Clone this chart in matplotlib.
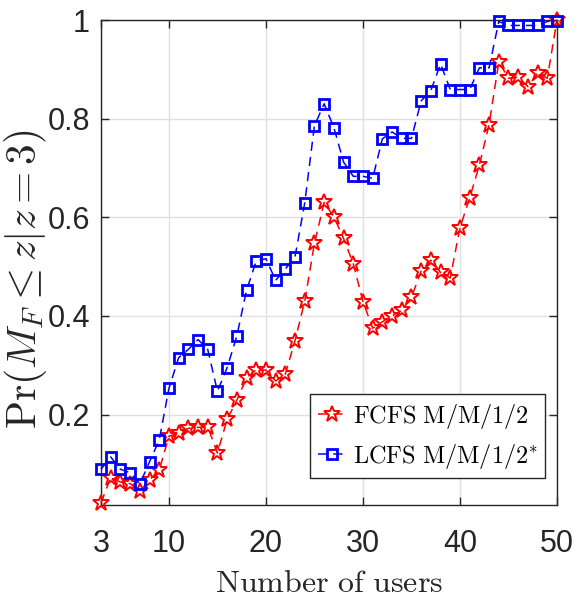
import numpy as np
import matplotlib
matplotlib.use("Agg")
import matplotlib.pyplot as plt

# ---- data ----
users = list(range(3, 51))
fcfs = [0.021, 0.072, 0.063, 0.060, 0.045, 0.067, 0.087,
        0.156, 0.162, 0.172, 0.174, 0.175, 0.122, 0.190, 0.229, 0.274, 0.291,
        0.290, 0.268, 0.282, 0.350, 0.430, 0.547, 0.630, 0.601, 0.557, 0.506,
        0.429, 0.375, 0.388, 0.400, 0.411, 0.438, 0.491, 0.513, 0.488, 0.477,
        0.579, 0.639, 0.706, 0.788, 0.915, 0.882, 0.884, 0.865, 0.892, 0.882, 1.0]
lcfs = [0.089, 0.114, 0.089, 0.082, 0.059, 0.104, 0.148,
        0.253, 0.315, 0.332, 0.352, 0.332, 0.247, 0.295, 0.359, 0.452, 0.511,
        0.516, 0.472, 0.495, 0.520, 0.629, 0.786, 0.830, 0.782, 0.712, 0.683,
        0.683, 0.679, 0.759, 0.773, 0.760, 0.760, 0.836, 0.857, 0.911, 0.859,
        0.859, 0.859, 0.903, 0.903, 0.997, 0.989, 0.989, 0.989, 0.989, 0.997, 0.997]
xticks = [3, 10, 20, 30, 40, 50]
xticklabels = ["3", "10", "20", "30", "40", "50"]
yticks = [0.2, 0.4, 0.6, 0.8, 1.0]
yticklabels = ["0.2", "0.4", "0.6", "0.8", "1"]
labels = [r"$\mathrm{FCFS\ M/M/1/2}$", r"$\mathrm{LCFS\ M/M/1/2}^{*}$"]

plt.rcParams['mathtext.fontset'] = 'cm'
plt.rcParams['font.family'] = ['Liberation Sans Narrow', 'Liberation Sans', 'DejaVu Sans']

fig = plt.figure(figsize=(5.79, 6.12), dpi=100)
ax = fig.add_axes([101/579, 1-505/612, (557-101)/579, (505-20)/612])

dash = (0, (6, 4))
ax.plot(users, fcfs, color='#ff0000', linestyle=dash, linewidth=1.1,
        marker='*', markersize=12, markerfacecolor='none', markeredgecolor='#ff0000',
        markeredgewidth=1.4, label=labels[0], clip_on=False, zorder=3)
ax.plot(users, lcfs, color='#0000ff', linestyle=dash, linewidth=1.1,
        marker='s', markersize=7.5, markerfacecolor='none', markeredgecolor='#0000ff',
        markeredgewidth=2.0, label=labels[1], clip_on=False, zorder=4)

ax.set_xlim(3, 50)
ax.set_ylim(0.0165, 1.0)
ax.set_xticks(xticks)
ax.set_xticklabels(xticklabels)
ax.set_yticks(yticks)
ax.set_yticklabels(yticklabels)
ax.tick_params(direction='in', length=6, width=1.0, labelsize=22, colors='#262626',
               top=True, right=True)
ax.tick_params(axis='x', pad=17)
ax.tick_params(axis='y', pad=8)
ax.grid(True, color='#e0e0e0', linewidth=1.0)
ax.set_axisbelow(True)
for s in ax.spines.values():
    s.set_color('#262626')
    s.set_linewidth(1.0)

ax.set_xlabel(r"$\mathrm{Number\ of\ users}$", fontsize=23, color='#262626')
ax.xaxis.set_label_coords(0.5, -0.132)
ax.set_ylabel(r"$\mathrm{Pr}(M_F \leq z|z=3)$", fontsize=27, color='#262626')
ax.yaxis.set_label_coords(-0.115, 0.465)

leg = ax.legend(loc='lower right', bbox_to_anchor=((545-101)/456, (505-478)/485),
                borderaxespad=0, fontsize=17.5, handlelength=1.2, handletextpad=0.25,
                labelspacing=0.45, borderpad=0.3, fancybox=False, framealpha=1,
                edgecolor='#262626')
leg.get_frame().set_linewidth(1.0)

# scale label fonts to match the reference extents
fig.canvas.draw()
r = fig.canvas.get_renderer()
yl = ax.yaxis.label
yl.set_fontsize(yl.get_fontsize() * 300 / yl.get_window_extent(r).height)
xl = ax.xaxis.label
xl.set_fontsize(xl.get_fontsize() * 228 / xl.get_window_extent(r).width)

fig.savefig("out.png", dpi=100)
